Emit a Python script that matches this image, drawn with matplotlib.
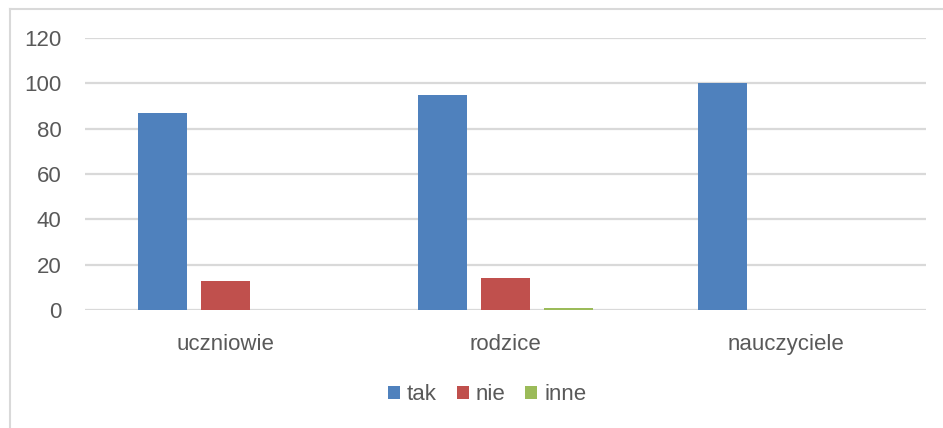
import numpy as np
import matplotlib.pyplot as plt
from matplotlib.lines import Line2D

# dane z wykresu
categories = ["uczniowie", "rodzice", "nauczyciele"]
series_names = ["tak", "nie", "inne"]
tak = [87, 95, 100]
nie = [13, 14, 0]
inne = [0, 1, 0]
colors = ["#4F81BD", "#C0504D", "#9BBB59"]
yticks = [0, 20, 40, 60, 80, 100, 120]

TXT = "#595959"
GRID = "#D9D9D9"

plt.rcParams['font.family'] = ['Liberation Sans', 'DejaVu Sans']

fig = plt.figure(figsize=(9.43, 4.28), dpi=100)
ax = fig.add_axes([85 / 943, 1 - 310 / 428, (926 - 85) / 943, (310 - 38) / 428])

# ramka wykresu - widać tylko lewą i górną krawędź (obraz przycięty)
fx0, fy0 = 9.5 / 943, 1 - 8.5 / 428
fig.add_artist(Line2D([fx0, 1.0], [fy0, fy0], transform=fig.transFigure,
                      color=GRID, linewidth=1.5))
fig.add_artist(Line2D([fx0, fx0], [0.0, fy0], transform=fig.transFigure,
                      color=GRID, linewidth=1.5))

x = np.arange(len(categories))
width = 0.175
step = 0.225
for i, (vals, name) in enumerate(zip([tak, nie, inne], series_names)):
    ax.bar(x + (i - 1) * step, vals, width, color=colors[i], label=name,
           zorder=3)

ax.set_xlim(-0.5, len(categories) - 0.5)
ax.set_ylim(0, 120)
ax.set_yticks(yticks)
ax.set_xticks(x)
ax.set_xticklabels(categories)
ax.tick_params(axis='both', length=0, colors=TXT, labelsize=16)
ax.tick_params(axis='x', pad=17)
ax.tick_params(axis='y', pad=17)
for s in ax.spines.values():
    s.set_visible(False)
ax.yaxis.grid(True, color=GRID, linewidth=1.6, zorder=0)
ax.set_axisbelow(True)

leg = fig.legend(loc='center', bbox_to_anchor=(487 / 943, 1 - 395 / 428),
                 ncol=3, frameon=False, fontsize=16, handlelength=0.55,
                 handleheight=0.55, handletextpad=0.3, columnspacing=0.9)
for t in leg.get_texts():
    t.set_color(TXT)

fig.savefig("out.png", dpi=100)
